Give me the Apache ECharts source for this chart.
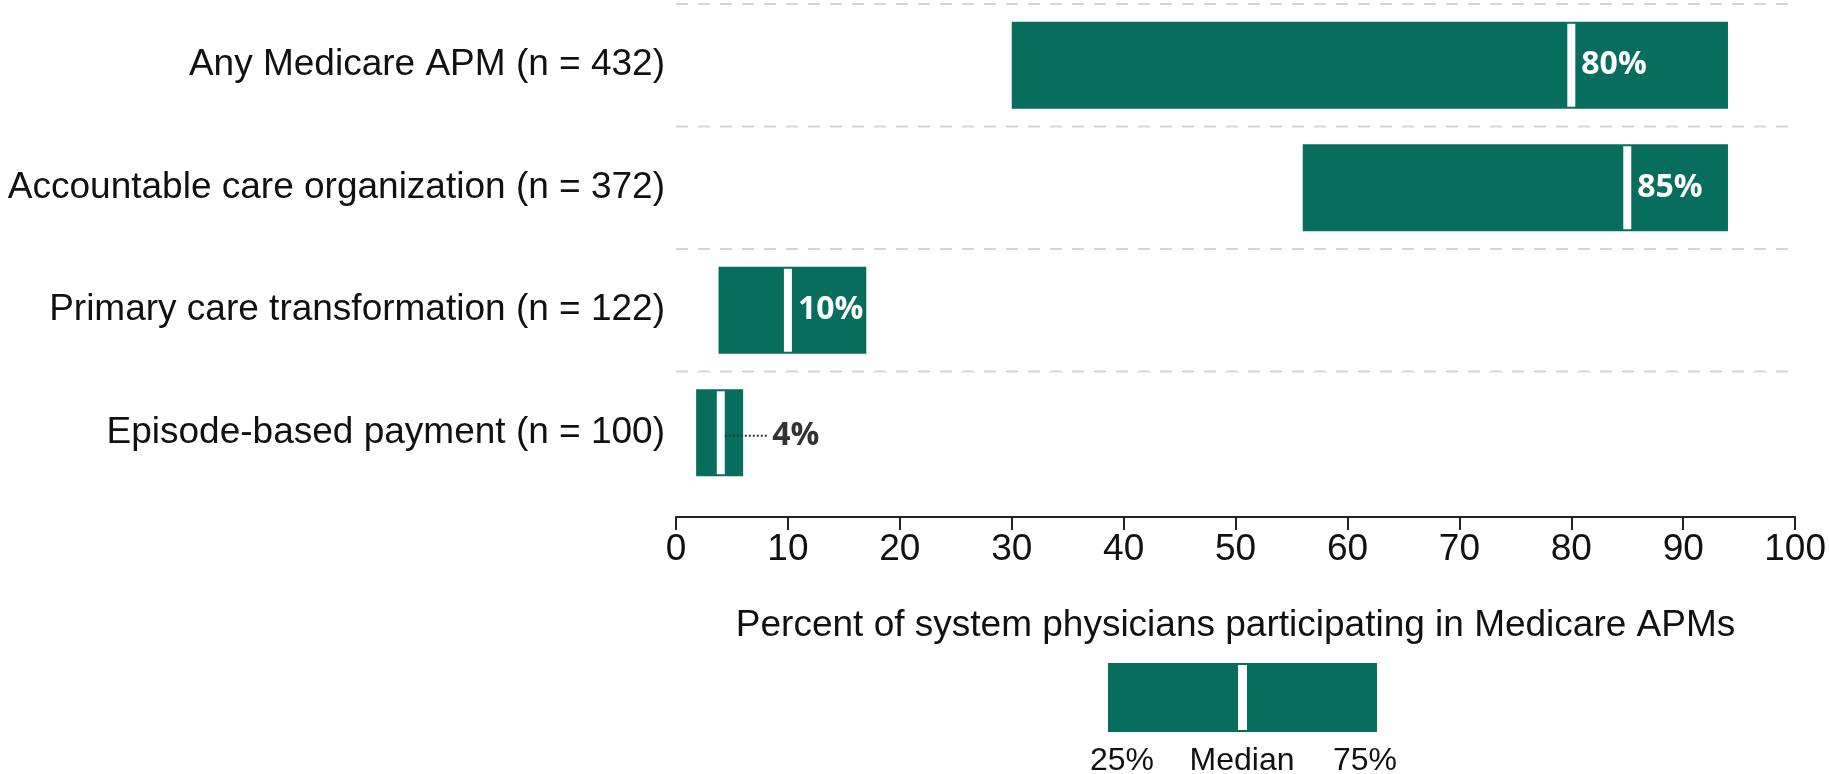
<!DOCTYPE html>
<html>
<head>
<meta charset="utf-8">
<script src="https://cdn.jsdelivr.net/npm/echarts@6/dist/echarts.min.js"></script>
<style>
html,body{margin:0;padding:0;background:#fff;}
#chart{width:1829px;height:774px;}
</style>
</head>
<body>
<div id="chart"></div>
<script>
const categories = [
  'Any Medicare APM (n = 432)',
  'Accountable care organization (n = 372)',
  'Primary care transformation (n = 122)',
  'Episode-based payment (n = 100)'
];
const q1Values = [30, 56, 3.8, 1.8];
const medianValues = [80, 85, 10, 4];
const q3Values = [94, 94, 17, 6];
const xTicks = [0, 10, 20, 30, 40, 50, 60, 70, 80, 90, 100];
const legendLabels = ['25%', 'Median', '75%'];

const GREEN = '#076E5E';
const FONT = '"Liberation Sans", Arial, sans-serif';
const LABEL_FONT = '"Open Sans", "Noto Sans", sans-serif';

const rows = categories.map((c, i) => [i, q1Values[i], medianValues[i], q3Values[i]]);

function renderItem(params, api) {
  const idx = api.value(0);
  const lo = api.value(1), med = api.value(2), hi = api.value(3);
  const pLo = api.coord([lo, idx]);
  const pHi = api.coord([hi, idx]);
  const pMed = api.coord([med, idx]);
  const p0 = api.coord([xTicks[0], idx]);
  const p100 = api.coord([xTicks[xTicks.length - 1], idx]);
  const band = api.size([0, 1])[1];
  const barH = band * 0.71;
  const cy = pLo[1];
  const top = cy - barH / 2;
  const children = [];
  children.push({
    type: 'line',
    shape: { x1: p0[0], y1: cy - band / 2, x2: p100[0], y2: cy - band / 2 },
    style: { stroke: '#d4d4d4', lineWidth: 2, lineDash: [12, 10] },
    silent: true
  });
  children.push({
    type: 'rect',
    shape: { x: pLo[0], y: top, width: pHi[0] - pLo[0], height: barH },
    style: { fill: GREEN }
  });
  children.push({
    type: 'rect',
    shape: { x: pMed[0] - 4, y: top + 2, width: 8, height: barH - 4 },
    style: { fill: '#ffffff' }
  });
  const txt = med + '%';
  const inside = (pHi[0] - pMed[0] - 4) > 60;
  if (inside) {
    children.push({
      type: 'text',
      style: {
        x: pMed[0] + 10, y: cy, text: txt, fill: '#ffffff',
        font: 'bold 32px ' + LABEL_FONT, textAlign: 'left', textVerticalAlign: 'middle'
      }
    });
  } else {
    children.push({
      type: 'line',
      shape: { x1: pMed[0] + 4, y1: cy + 3, x2: pHi[0] + 24, y2: cy + 3 },
      style: { stroke: '#333333', lineWidth: 2, lineDash: [2, 2] }
    });
    children.push({
      type: 'text',
      style: {
        x: pHi[0] + 29, y: cy + 3, text: txt, fill: '#333333',
        font: 'bold 32px ' + LABEL_FONT, textAlign: 'left', textVerticalAlign: 'middle'
      }
    });
  }
  return { type: 'group', children: children };
}

const chart = echarts.init(document.getElementById('chart'));
chart.setOption({
  animation: false,
  backgroundColor: '#ffffff',
  grid: { left: 676, right: 32, top: 4, bottom: 280, containLabel: false },
  xAxis: {
    type: 'value', min: 0, max: 100, interval: 10, offset: 23,
    axisLine: { show: true, lineStyle: { color: '#222', width: 2 } },
    axisTick: { show: true, length: 13, lineStyle: { color: '#222', width: 2 } },
    splitLine: { show: false },
    axisLabel: { fontSize: 37, color: '#111', fontFamily: FONT, margin: 14 },
    name: 'Percent of system physicians participating in Medicare APMs',
    nameLocation: 'middle', nameGap: 90,
    nameTextStyle: { fontSize: 37, color: '#111', fontFamily: FONT }
  },
  yAxis: {
    type: 'category', inverse: true, data: categories,
    axisLine: { show: false }, axisTick: { show: false }, splitLine: { show: false },
    axisLabel: { fontSize: 37, color: '#111', fontFamily: FONT, margin: 11 }
  },
  series: [{
    type: 'custom',
    renderItem: renderItem,
    data: rows,
    encode: { x: [1, 2, 3], y: 0 },
    clip: false
  }],
  graphic: [
    { type: 'rect', shape: { x: 1108, y: 663, width: 269, height: 69 }, style: { fill: GREEN } },
    { type: 'rect', shape: { x: 1238, y: 665, width: 9, height: 65 }, style: { fill: '#fff' } },
    { type: 'text', style: { x: 1122, y: 761, text: legendLabels[0], font: '32px ' + FONT, fill: '#111', textAlign: 'center', textVerticalAlign: 'middle' } },
    { type: 'text', style: { x: 1242, y: 761, text: legendLabels[1], font: '32px ' + FONT, fill: '#111', textAlign: 'center', textVerticalAlign: 'middle' } },
    { type: 'text', style: { x: 1365, y: 761, text: legendLabels[2], font: '32px ' + FONT, fill: '#111', textAlign: 'center', textVerticalAlign: 'middle' } }
  ]
});
</script>
</body>
</html>
